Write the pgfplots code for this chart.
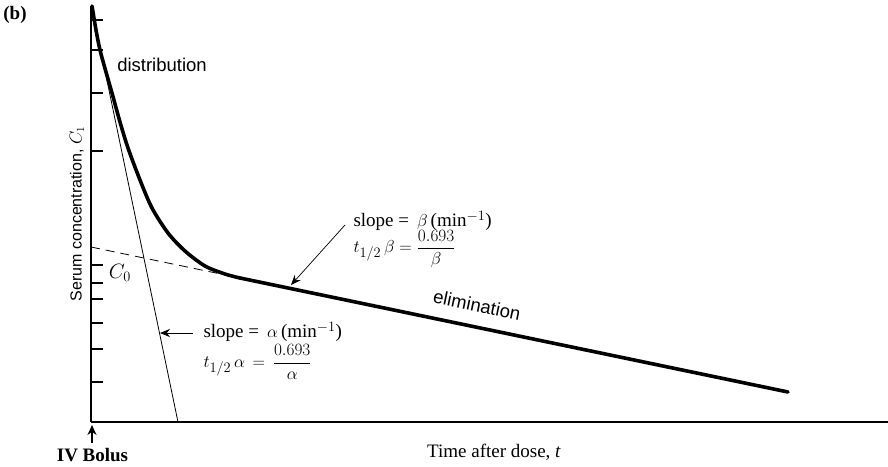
\documentclass[border=0pt]{standalone}
\usepackage{fontspec}
\setmainfont{Liberation Serif}
\setsansfont{Liberation Sans}
\usepackage{pgfplots}
\pgfplotsset{compat=1.18}
\usetikzlibrary{arrows.meta}
\newcommand{\serifsz}{\fontsize{19}{22}\selectfont}
\newcommand{\sanssz}{\sffamily\fontsize{18.5}{22}\selectfont}
\newcommand{\ylabsz}{\sffamily\fontsize{16}{19}\selectfont}
\begin{document}
\begin{tikzpicture}
\useasboundingbox (0pt,0pt) rectangle (888pt,-466pt);
\begin{axis}[
  at={(91pt,-422pt)}, anchor=south west,
  scale only axis, width=797pt, height=416pt,
  xmin=0, xmax=797, ymin=0, ymax=416,
  axis x line*=bottom, axis y line*=left,
  axis line style={line width=1.2pt},
  xtick=\empty,
  ytick={40,73,99,123,139,157,271,329,372,402},
  yticklabels={},
  tick align=inside,
  major tick length=12pt,
  tick style={line width=1.1pt, black},
  clip=false,
]
% biexponential (distribution) phase
\addplot[line width=3.6pt, smooth, tension=0.5, line cap=round] coordinates {
 (1,416) (5,392) (9,372) (15,350) (21,329) (29,300) (37,274) (49,242)
 (61,214) (77,189) (94,171) (114,156) (134,148) (149,144)};
% elimination phase
\addplot[line width=3.6pt, line cap=round] coordinates {(149,144) (697,30)};
% alpha (residual) line
\addplot[line width=0.8pt] coordinates {(0.5,416) (87,0)};
% back-extrapolated beta line
\addplot[line width=0.8pt, dash pattern=on 9pt off 6pt] coordinates {(0,175) (149,144)};

\node[font=\sanssz] at (axis cs:71,357) {distribution};
\node[font=\fontsize{22}{24}\selectfont] at (axis cs:29,149) {$C_0$};
\node[font=\serifsz, anchor=west] at (axis cs:259,201) {slope = \,$\beta$\,(min$^{-1}$)};
\node[font=\serifsz, anchor=west] at (axis cs:259,173) {$t_{1/2}\,\beta = {\displaystyle\frac{0.693}{\beta}}$};
\draw[line width=0.7pt, -{Stealth[length=10pt,width=8pt]}] (axis cs:254,197) -- (axis cs:200,137);
\node[font=\serifsz, anchor=west] at (axis cs:109,90) {slope = \,$\alpha$\,(min$^{-1}$)};
\node[font=\serifsz, anchor=west] at (axis cs:109,60) {$t_{1/2}\,\alpha\, = \,{\displaystyle\frac{0.693}{\alpha}}$};
\draw[line width=0.7pt, -{Stealth[length=10pt,width=8pt]}] (axis cs:102,89) -- (axis cs:69,89);
\node[font=\sanssz, rotate=-11.75] at (axis cs:386,117) {elimination};
\node[font=\serifsz] at (axis cs:403,-30) {Time after dose, \textit{t}};
\node[font=\serifsz\bfseries] at (axis cs:1.5,-33) {IV Bolus};
\draw[line width=1.1pt, -{Stealth[length=10pt,width=9pt]}] (axis cs:1,-21) -- (axis cs:1,-3);
\node[font=\ylabsz, rotate=90] at (axis cs:-14,208) {Serum concentration, $C_1$};
\node[font=\serifsz\bfseries] at (axis cs:-76,407) {(b)};
\end{axis}
\end{tikzpicture}
\end{document}
